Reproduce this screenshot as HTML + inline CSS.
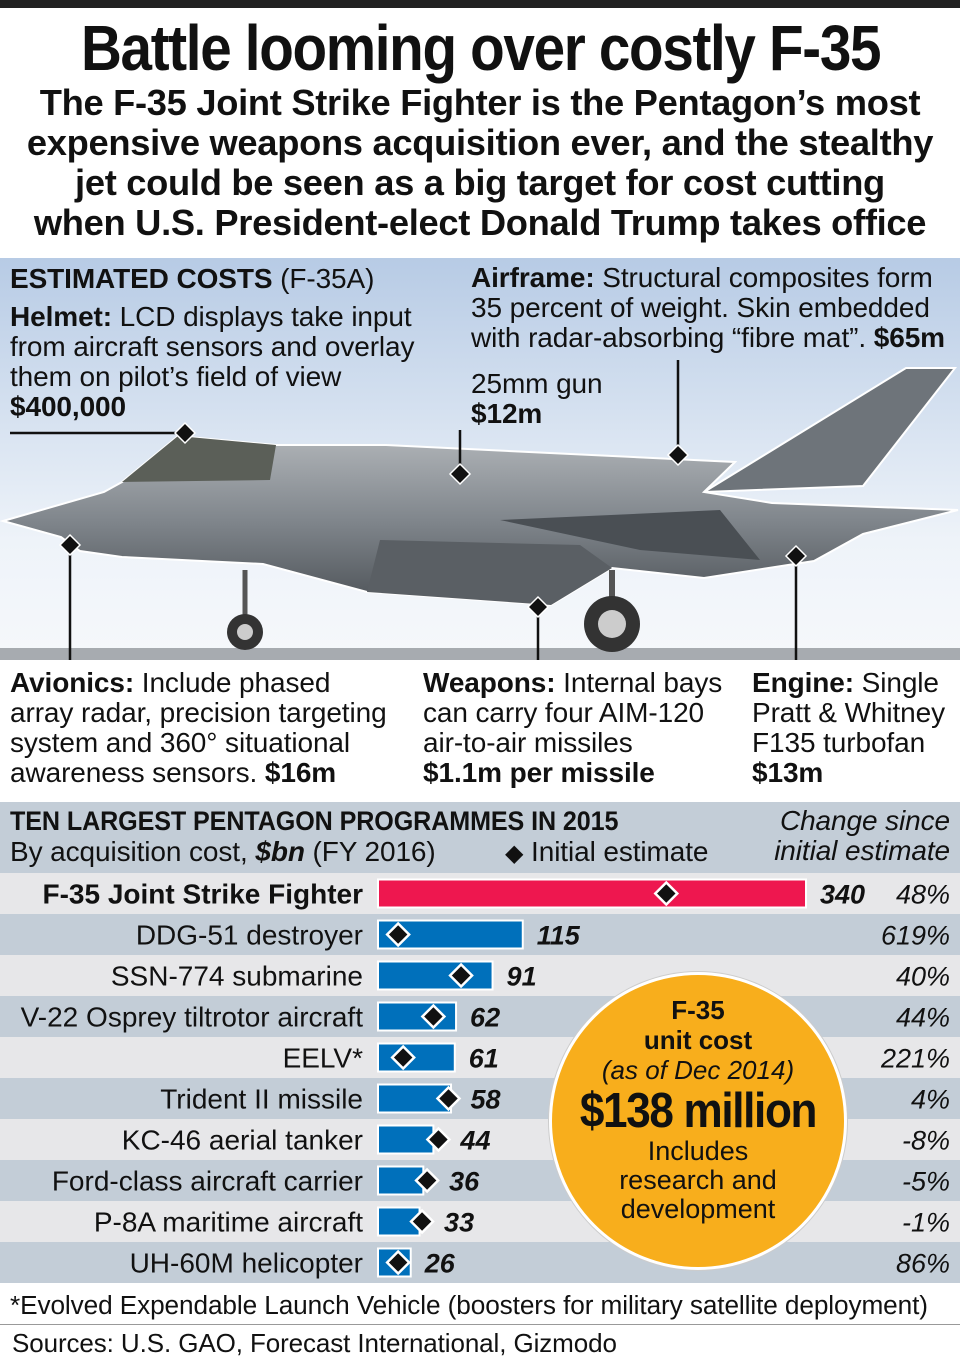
<!DOCTYPE html>
<html><head><meta charset="utf-8">
<style>
*{margin:0;padding:0;box-sizing:border-box}
body{width:960px;height:1368px;background:#fff;font-family:"Liberation Sans",sans-serif;color:#111;position:relative;overflow:hidden}
.abs{position:absolute}
.t{font-size:28px;line-height:30px;white-space:nowrap;letter-spacing:-0.1px}
b{font-weight:bold}
</style></head><body>
<div class="abs" style="left:0;top:0;width:960px;height:8px;background:#222"></div>
<div class="abs" style="left:0;top:12px;width:960px;text-align:center;font-weight:bold;font-size:64px;line-height:72px;letter-spacing:-1.5px;transform:scaleX(0.885);transform-origin:485px 0">Battle looming over costly F-35</div>
<div class="abs" style="left:0;top:83px;width:960px;text-align:center;font-weight:bold;font-size:36.3px;line-height:40px;letter-spacing:-0.3px">The F-35 Joint Strike Fighter is the Pentagon’s most<br>expensive weapons acquisition ever, and the stealthy<br>jet could be seen as a big target for cost cutting<br>when U.S. President-elect Donald Trump takes office</div>

<svg class="abs" style="left:0;top:258px" width="960" height="402" viewBox="0 258 960 402">
<defs>
<linearGradient id="sky" x1="0" y1="0" x2="0" y2="1"><stop offset="0" stop-color="#b7cbe5"/><stop offset="0.7" stop-color="#eef3f9"/><stop offset="1" stop-color="#f6f8fb"/></linearGradient>
<linearGradient id="body" x1="0" y1="0" x2="0" y2="1"><stop offset="0" stop-color="#b0b4b8"/><stop offset="0.5" stop-color="#80868c"/><stop offset="1" stop-color="#4e5358"/></linearGradient>
</defs>
<rect x="0" y="258" width="960" height="402" fill="url(#sky)"/>
<rect x="0" y="648" width="960" height="12" fill="#a7abb0"/>
<polygon points="704,492 906,368 955,368 863,486" fill="#6e747a" stroke="#fff" stroke-width="2"/>
<polygon points="3,521 104,492 122,482 178,436 276,445 386,445 735,462 704,492 772,503 958,510 863,534 814,561 704,578 612,568 551,605 367,592 263,564 122,557 80,551 61,537" fill="url(#body)" stroke="#fff" stroke-width="2"/>
<polygon points="122,482 178,436 276,445 270,480" fill="#5b5f58"/>
<polygon points="380,540 580,545 612,568 551,605 367,592" fill="#5a5f64"/>
<polygon points="500,520 720,510 760,560 640,550" fill="#4a4f54"/>
<line x1="245" y1="570" x2="245" y2="630" stroke="#555" stroke-width="5"/>
<circle cx="245" cy="632" r="18" fill="#333"/><circle cx="245" cy="632" r="8" fill="#ccc"/>
<line x1="612" y1="570" x2="612" y2="600" stroke="#555" stroke-width="6"/>
<circle cx="612" cy="624" r="28" fill="#333"/><circle cx="612" cy="624" r="14" fill="#ccc"/>
<g stroke="#111" stroke-width="2.5">
<line x1="10" y1="433" x2="185" y2="433"/>
<line x1="460" y1="430" x2="460" y2="474"/>
<line x1="678" y1="360" x2="678" y2="455"/>
<line x1="70" y1="545" x2="70" y2="660"/>
<line x1="538" y1="607" x2="538" y2="660"/>
<line x1="796" y1="556" x2="796" y2="660"/>
</g>
<g fill="#111" stroke="#fff" stroke-width="1.5">
<polygon points="185,423 195,433 185,443 175,433"/>
<polygon points="460,464 470,474 460,484 450,474"/>
<polygon points="678,445 688,455 678,465 668,455"/>
<polygon points="70,535 80,545 70,555 60,545"/>
<polygon points="538,597 548,607 538,617 528,607"/>
<polygon points="796,546 806,556 796,566 786,556"/>
</g>
</svg>
<div class="abs t" style="left:10px;top:264px"><b>ESTIMATED COSTS</b> (F-35A)</div>
<div class="abs t" style="left:10px;top:302px"><b>Helmet:</b> LCD displays take input<br>from aircraft sensors and overlay<br>them on pilot’s field of view<br><b>$400,000</b></div>
<div class="abs t" style="left:471px;top:263px"><b>Airframe:</b> Structural composites form<br>35 percent of weight. Skin embedded<br>with radar-absorbing “fibre mat”. <b>$65m</b></div>
<div class="abs t" style="left:471px;top:369px">25mm gun<br><b>$12m</b></div>
<div class="abs t" style="left:10px;top:668px"><b>Avionics:</b> Include phased<br>array radar, precision targeting<br>system and 360° situational<br>awareness sensors. <b>$16m</b></div>
<div class="abs t" style="left:423px;top:668px"><b>Weapons:</b> Internal bays<br>can carry four AIM-120<br>air-to-air missiles<br><b>$1.1m per missile</b></div>
<div class="abs t" style="left:752px;top:668px"><b>Engine:</b> Single<br>Pratt &amp; Whitney<br>F135 turbofan<br><b>$13m</b></div>

<div class="abs" style="left:0;top:802px;width:960px;height:71px;background:#c3cdd7"></div>
<div class="abs t" style="left:10px;top:806px;font-weight:bold;font-size:27px;transform:scaleX(0.93);transform-origin:0 0">TEN LARGEST PENTAGON PROGRAMMES IN 2015</div>
<div class="abs t" style="left:10px;top:837px">By acquisition cost, <b><i>$bn</i></b> (FY 2016)</div>
<div class="abs t" style="left:505px;top:837px"><span style="font-size:24px">◆</span> Initial estimate</div>
<div class="abs t" style="right:10px;top:806px;text-align:right;font-style:italic">Change since<br>initial estimate</div>

<svg class="abs" id="chart" style="left:0;top:873px" width="960" height="412"></svg>

<div class="abs" style="left:549px;top:972px;width:298px;height:298px;border-radius:50%;background:#f8ae1c;border:3px solid #fff;box-shadow:0 0 0 1px #ccc;text-align:center;padding-top:20px">
<div style="font-weight:bold;font-size:26px;line-height:30px">F-35<br>unit cost</div>
<div style="font-style:italic;font-size:26px;line-height:30px">(as of Dec 2014)</div>
<div style="font-weight:bold;font-size:49px;line-height:52px;letter-spacing:-1.5px;transform:scaleX(0.9);white-space:nowrap">$138 million</div>
<div style="font-size:27px;line-height:29px">Includes<br>research and<br>development</div>
</div>

<div class="abs t" style="left:10px;top:1290px;font-size:26.2px">*Evolved Expendable Launch Vehicle (boosters for military satellite deployment)</div>
<div class="abs" style="left:0;top:1324px;width:960px;height:1px;background:#999"></div>
<div class="abs t" style="left:12px;top:1328px;font-size:26px">Sources: U.S. GAO, Forecast International, Gizmodo</div>

<script>
const categories=["F-35 Joint Strike Fighter","DDG-51 destroyer","SSN-774 submarine","V-22 Osprey tiltrotor aircraft","EELV*","Trident II missile","KC-46 aerial tanker","Ford-class aircraft carrier","P-8A maritime aircraft","UH-60M helicopter"];
const costs=[340,115,91,62,61,58,44,36,33,26];
const initialEstimates=[229,16,66,44,20,56,48,39,35,16];
const changes=["48%","619%","40%","44%","221%","4%","-8%","-5%","-1%","86%"];
const svg=document.getElementById('chart');
const NS='http://www.w3.org/2000/svg';
const x0=378, scale=428/340, rowH=41, barH=28;
const xs=v=>x0+v*scale;
const ys=i=>i*rowH;
function mk(t,a){const e=document.createElementNS(NS,t);for(const k in a)e.setAttribute(k,a[k]);svg.appendChild(e);return e;}
categories.forEach((c,i)=>{
  const y=ys(i);
  const row=mk('rect',{x:0,y:y,width:960,height:rowH,fill:i%2?'#c3cdd7':'#e7e7e9'});
  
  
  const bar=mk('rect',{x:x0,y:y+(rowH-barH)/2,width:xs(costs[i])-x0,height:barH,fill:i===0?'#ee174f':'#0070bb',stroke:'#fff','stroke-width':2});
  
  
  const cx=xs(initialEstimates[i]), cy=y+rowH/2;
  const d=mk('polygon',{points:`${cx},${cy-11} ${cx+11},${cy} ${cx},${cy+11} ${cx-11},${cy}`,fill:'#111',stroke:'#fff','stroke-width':2.5});
  
  
  const lab=mk('text',{x:363,y:cy+10,'text-anchor':'end','font-size':28,'font-family':'Liberation Sans, sans-serif','font-weight':i===0?'bold':'normal',fill:'#111'});
  lab.textContent=c;
  
  
  const vx=Math.max(xs(costs[i]),xs(initialEstimates[i])+8)+14;
  const val=mk('text',{x:vx,y:cy+10,'font-size':27,'font-family':'Liberation Sans, sans-serif','font-weight':'bold','font-style':'italic',fill:'#111'});
  val.textContent=costs[i];
  
  
  const ch=mk('text',{x:950,y:cy+10,'text-anchor':'end','font-size':27,'font-family':'Liberation Sans, sans-serif','font-style':'italic',fill:'#111'});
  ch.textContent=changes[i];
  
  
});
</script>
</body></html>
